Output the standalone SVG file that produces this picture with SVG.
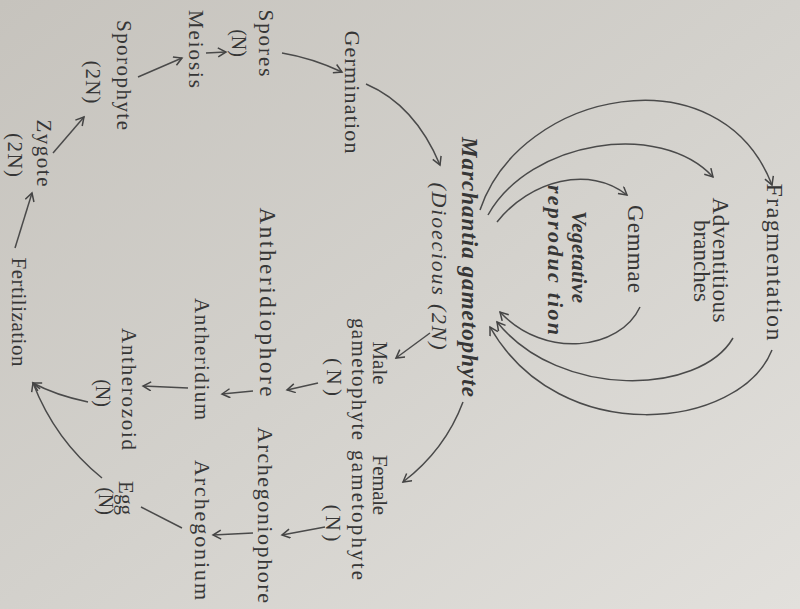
<svg xmlns="http://www.w3.org/2000/svg" width="800" height="609" viewBox="0 0 800 609">
  <defs>
    <linearGradient id="bg" x1="0" y1="0" x2="1" y2="1">
      <stop offset="0" stop-color="#c6c3bd"/>
      <stop offset="0.5" stop-color="#d3d1cc"/>
      <stop offset="1" stop-color="#e2e0dc"/>
    </linearGradient>
    <marker id="ah" markerWidth="12" markerHeight="12" refX="9" refY="5" orient="auto" markerUnits="userSpaceOnUse">
      <path d="M1,0.5 L9,5 L1,9.5" fill="none" stroke="#444" stroke-width="1.5"/>
    </marker>
    <style>
      text { font-family: "Liberation Serif", "DejaVu Serif", serif; fill: #363636; text-anchor: middle; }
      .it { font-style: italic; }
      .bi { font-style: italic; font-weight: bold; }
      .c { fill: none; stroke: #4a4a4a; stroke-width: 1.5; }
      .a { marker-end: url(#ah); }
    </style>
  </defs>
  <rect width="800" height="609" fill="url(#bg)"/>

  <g id="connectors">
    <path class="c a" d="M282,53 Q312,58 342,72"/>
    <path class="c a" d="M366,84 Q415,105 440,165"/>
    <path class="c a" d="M206,53 L226,52"/>
    <path class="c a" d="M138,77 L182,58"/>
    <path class="c a" d="M53,153 L84,117"/>
    <path class="c a" d="M15,248 L32,193"/>
    <path class="c a" d="M430,333 L396,358"/>
    <path class="c a" d="M463,402 Q445,450 403,482"/>
    <path class="c a" d="M318,383 L287,390"/>
    <path class="c a" d="M253,391 L222,394"/>
    <path class="c a" d="M188,388 L143,386"/>
    <path class="c a" d="M325,527 L282,535"/>
    <path class="c a" d="M253,533 L213,535"/>
    <path class="c" d="M182,528 L141,507"/>
    <path class="c a" d="M88,402 Q55,395 33,383"/>
    <path class="c a" d="M102,478 Q55,440 33,383"/>
    <path class="c a" d="M480,210 C520,90 720,50 772,185"/>
    <path class="c a" d="M488,215 C530,140 660,120 713,177"/>
    <path class="c a" d="M497,222 C530,180 590,165 627,195"/>
    <path class="c a" d="M772,350 C740,430 560,450 490,327"/>
    <path class="c a" d="M733,338 C700,395 560,400 497,322"/>
    <path class="c a" d="M640,307 C620,350 545,360 500,312"/>
  </g>

  <g id="fragmentation"><text font-size="24" textLength="157" lengthAdjust="spacing" transform="translate(767,262) rotate(90)">Fragmentation</text></g>
  <g id="adventitious"><text font-size="23" textLength="125" lengthAdjust="spacing" transform="translate(713,260) rotate(90)">Adventitious</text>
    <text font-size="23" textLength="82" lengthAdjust="spacing" transform="translate(694,261) rotate(90)">branches</text></g>
  <g id="gemmae"><text font-size="23" textLength="88" lengthAdjust="spacing" transform="translate(628,249) rotate(90)">Gemmae</text></g>
  <g id="vegetative"><text class="bi" font-size="21" textLength="92" lengthAdjust="spacing" transform="translate(572,257) rotate(90)">Vegetative</text>
    <text class="bi" font-size="22" textLength="150" lengthAdjust="spacing" transform="translate(548,260) rotate(90)">reproduc tion</text></g>
  <g id="marchantia"><text class="bi" font-size="23" textLength="260" lengthAdjust="spacing" transform="translate(462,267) rotate(90)">Marchantia gametophyte</text>
    <text class="it" font-size="22" textLength="167" lengthAdjust="spacing" transform="translate(432,266) rotate(90)">(Dioecious (2N)</text></g>
  <g id="germination"><text font-size="22" textLength="123" lengthAdjust="spacing" transform="translate(345,92) rotate(90)">Germination</text></g>
  <g id="spores"><text font-size="21" textLength="67" lengthAdjust="spacing" transform="translate(259,43) rotate(90)">Spores</text>
    <text font-size="20" transform="translate(232,43) rotate(90)">(N)</text></g>
  <g id="meiosis"><text font-size="21" textLength="78" lengthAdjust="spacing" transform="translate(189,49) rotate(90)">Meiosis</text></g>
  <g id="sporophyte"><text font-size="21" textLength="110" lengthAdjust="spacing" transform="translate(117,75) rotate(90)">Sporophyte</text>
    <text font-size="21" textLength="43" lengthAdjust="spacing" transform="translate(86,82) rotate(90)">(2N)</text></g>
  <g id="zygote"><text font-size="21" textLength="67" lengthAdjust="spacing" transform="translate(37,153) rotate(90)">Zygote</text>
    <text font-size="21" textLength="44" lengthAdjust="spacing" transform="translate(8,155) rotate(90)">(2N)</text></g>
  <g id="fertilization"><text font-size="21" textLength="109" lengthAdjust="spacing" transform="translate(12,312) rotate(90)">Fertilization</text></g>
  <g id="male-gametophyte"><text font-size="21" transform="translate(373,363) rotate(90)">Male</text>
    <text font-size="21" textLength="122" lengthAdjust="spacing" transform="translate(352,379) rotate(90)">gametophyte</text>
    <text font-size="21" textLength="38" lengthAdjust="spacing" transform="translate(327,377) rotate(90)">(N)</text></g>
  <g id="female-gametophyte"><text font-size="21" textLength="60" lengthAdjust="spacing" transform="translate(373,485) rotate(90)">Female</text>
    <text font-size="21" textLength="130" lengthAdjust="spacing" transform="translate(352,515) rotate(90)">gametophyte</text>
    <text font-size="21" textLength="37" lengthAdjust="spacing" transform="translate(326,523) rotate(90)">(N)</text></g>
  <g id="antheridiophore"><text font-size="23" textLength="189" lengthAdjust="spacing" transform="translate(260,302) rotate(90)">Antheridiophore</text></g>
  <g id="archegoniophore"><text font-size="22" textLength="176" lengthAdjust="spacing" transform="translate(258,515) rotate(90)">Archegoniophore</text></g>
  <g id="antheridium"><text font-size="21" textLength="122" lengthAdjust="spacing" transform="translate(195,359) rotate(90)">Antheridium</text></g>
  <g id="archegonium"><text font-size="22" textLength="140" lengthAdjust="spacing" transform="translate(195,530) rotate(90)">Archegonium</text></g>
  <g id="antherozoid"><text font-size="21" textLength="122" lengthAdjust="spacing" transform="translate(122,389) rotate(90)">Antherozoid</text>
    <text font-size="20" transform="translate(96,393) rotate(90)">(N)</text></g>
  <g id="egg"><text font-size="21" transform="translate(119,498) rotate(90)">Egg</text>
    <text font-size="20" transform="translate(99,501) rotate(90)">(N)</text></g>
</svg>
